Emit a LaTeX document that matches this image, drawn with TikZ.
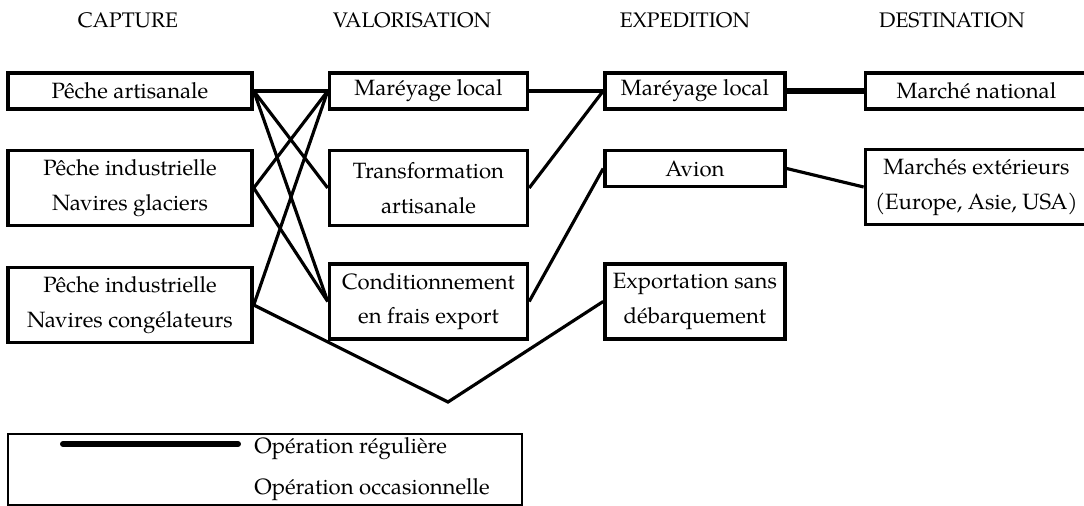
\documentclass[tikz,border=0pt]{standalone}
\usepackage{fontspec}
\setmainfont{texgyrepagella}[
	Extension=.otf,
	UprightFont=*-regular,
	BoldFont=*-bold,
	ItalicFont=*-italic,
	BoldItalicFont=*-bolditalic]
\usepackage{tikz}
\usetikzlibrary{
	positioning
}
\tikzset{
	boxnode/.style={
		draw=black,
		line width=2pt,
		shape=rectangle,
		minimum height=0.72cm,
		inner sep=1pt,
		align=center,
		font=\fontsize{12.6}{19.8}\selectfont
	},
	dblnode/.style={
		boxnode,
		minimum height=1.5cm
	},
	headnode/.style={
		anchor=base,
		inner sep=0pt,
		font=\fontsize{12}{14}\selectfont
	},
	legendnode/.style={
		anchor=base west,
		inner sep=0pt,
		font=\fontsize{12.6}{14}\selectfont
	},
	link/.style={
		line width=1.8pt,
		color=black
	},
	reglink/.style={
		line width=3.4pt,
		color=black
	}
}

\begin{document}
\begin{tikzpicture}[x=0.02cm, y=-0.02cm, node distance=0.76cm and 1.48cm]
	
	\useasboundingbox (0,0) rectangle (1084,506);
	
	% Nodes
	% Capture
	\node[boxnode, minimum width=4.88cm] (art) at (130,91) {Pêche artisanale};
	
	% Valorisation
	\node[boxnode, minimum width=3.96cm, right=of art] (mval) {Maréyage local};
	\node[dblnode, minimum width=3.96cm, below=of mval] (trans)
	{Transformation\\artisanale};
	\node[dblnode, minimum width=3.96cm, below=0.7cm of trans] (cond)
	{Conditionnement\\en frais export};
	
	% Capture (suite)
	\node[dblnode, minimum width=4.88cm, left=of trans] (glac)
	{Pêche industrielle\\Navires glaciers};
	\node[dblnode, minimum width=4.88cm, left=of cond, yshift=-2pt] (cong)
	{Pêche industrielle\\Navires congélateurs};
	
	% Expedition
	\node[boxnode, minimum width=3.6cm, right=of mval] (mexp) {Maréyage local};
	\node[boxnode, minimum width=3.6cm, below=of mexp] (avion) {Avion};
	\node[dblnode, minimum width=3.6cm, right=of cond] (expo)
	{Exportation sans\\débarquement};
	
	% Destination
	\node[boxnode, minimum width=4.44cm, right=1.54cm of mexp] (natl) {Marché national};
	\node[dblnode, minimum width=4.44cm, below=0.74cm of natl] (ext)
	{Marchés extérieurs\\(Europe, Asie, USA)};
	
	% Column titles
	\node[headnode] (hcap) at (128,28) {CAPTURE};
	\node[headnode] (hval) at (412,28) {VALORISATION};
	\node[headnode] (hexp) at (685,28) {EXPEDITION};
	\node[headnode] (hdest) at (952,28) {DESTINATION};
	
	% Lines
	% Capture to valorisation
	\draw[link] (art.east) -- (mval.west);
	\draw[link] (art.east) -- (trans.west);
	\draw[link] (art.east) -- (cond.west);
	\draw[link] (glac.east) -- (mval.west);
	\draw[link] (glac.east) -- (cond.west);
	\draw[link] (cong.east) -- (mval.west);
	
	% Direct export, no landing
	\coordinate (creux) at (448,402);
	\draw[link] (cong.east) -- (creux) -- (expo.west);
	
	% Valorisation to expedition
	\draw[link] (mval.east) -- (mexp.west);
	\draw[link] (trans.east) -- (mexp.west);
	\draw[link] (cond.east) -- (avion.west);
	
	% Expedition to destination
	\draw[reglink] (mexp.east) -- (natl.west);
	\draw[link] (avion.east) -- (ext.west);
	
	% Legend
	\node[draw=black, line width=0.8pt, minimum width=10.28cm, minimum height=1.42cm,
	inner sep=0pt] (legende) at (265,469.5) {};
	\coordinate (lg1) at (63,444);
	\coordinate (lg2) at (238,444);
	\draw[reglink, line cap=round] (lg1) -- (lg2);
	\node[legendnode] (lreg) at (254,453) {Opération régulière};
	\node[legendnode] (locc) at (254,494) {Opération occasionnelle};
	
\end{tikzpicture}
\end{document}
